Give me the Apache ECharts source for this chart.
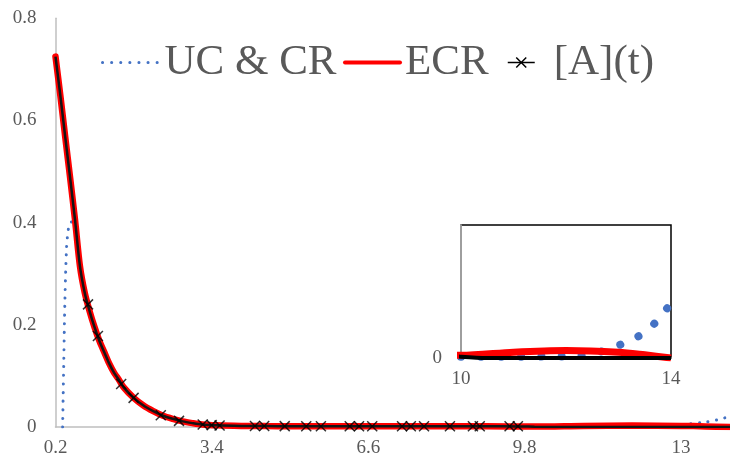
<!DOCTYPE html>
<html>
<head>
<meta charset="utf-8">
<script src="https://cdn.jsdelivr.net/npm/echarts@6/dist/echarts.min.js"></script>
<style>
  html, body { margin: 0; padding: 0; background: #fff; }
  #chart { width: 730px; height: 458px; }
</style>
</head>
<body>
<div id="chart"></div>
<script>
// UC & CR (blue dotted)
const ucT = [0.346, 0.37, 0.393, 0.427, 0.46, 0.494, 0.6, 0.7, 0.8, 0.9, 1.0, 1.2, 1.4, 1.6, 1.8, 2.0, 2.4, 2.8, 3.2, 3.6, 4.0, 5, 6, 7, 8, 9, 10, 11, 12, 12.3, 12.7, 13.07, 13.45, 13.75, 14];
const ucY = [0, 0.13, 0.25, 0.352, 0.385, 0.4, 0.402, 0.315, 0.262, 0.225, 0.195, 0.146, 0.106, 0.077, 0.057, 0.042, 0.021, 0.011, 0.0048, 0.003, 0.002, 0.001, 0.0008, 0.0006, 0.0005, 0.0005, 0.0005, 0.0005, 0.0006, 0.0009, 0.0026, 0.0053, 0.009, 0.0143, 0.0207];

// ECR (red)
const ecrT = [0.2, 0.3, 0.4, 0.5, 0.6, 0.7, 0.8, 0.9, 1.0, 1.1, 1.2, 1.3, 1.4, 1.5, 1.6, 1.8, 2.0, 2.2, 2.4, 2.6, 2.8, 3.0, 3.2, 3.5, 4.0, 4.5, 5, 6, 7, 8, 9, 10, 11, 12, 13, 13.5, 14];
const ecrY = [0.725, 0.648, 0.567, 0.487, 0.405, 0.315, 0.262, 0.226, 0.195, 0.168, 0.146, 0.124, 0.106, 0.092, 0.077, 0.057, 0.042, 0.031, 0.022, 0.016, 0.011, 0.0076, 0.0049, 0.0033, 0.0022, 0.0018, 0.0016, 0.0015, 0.0015, 0.0015, 0.0014, 0.001, 0.0022, 0.0028, 0.0022, 0.0012, 0];

// [A](t) line (black)
const aT = [0.2, 0.3, 0.4, 0.5, 0.6, 0.7, 0.8, 0.9, 1.0, 1.1, 1.2, 1.3, 1.4, 1.5, 1.6, 1.8, 2.0, 2.2, 2.4, 2.6, 2.8, 3.0, 3.2, 3.5, 4.0, 4.5, 5, 6, 7, 8, 9, 9.7, 10, 10.5, 12, 14];
const aY = [0.725, 0.648, 0.567, 0.487, 0.405, 0.315, 0.262, 0.226, 0.195, 0.168, 0.146, 0.124, 0.106, 0.092, 0.077, 0.057, 0.042, 0.031, 0.022, 0.016, 0.011, 0.0076, 0.0049, 0.0033, 0.0022, 0.0018, 0.0016, 0.0015, 0.0015, 0.0015, 0.0014, 0.0012, 0.0005, 0, 0, 0];

// [A](t) sampled points (crosses)
const markT = [0.865, 1.068, 1.543, 1.798, 2.354, 2.727, 3.212, 3.395, 3.557, 4.281, 4.47, 4.89, 5.33, 5.63, 6.22, 6.41, 6.68, 7.29, 7.47, 7.74, 8.27, 8.74, 8.88, 9.49, 9.66];
const markY = [0.24, 0.178, 0.084, 0.057, 0.023, 0.012, 0.0048, 0.0037, 0.003, 0.0019, 0.0018, 0.0017, 0.0016, 0.0016, 0.0016, 0.0016, 0.0016, 0.0016, 0.0016, 0.0016, 0.0016, 0.0016, 0.0016, 0.0016, 0.0016];

// main axis ticks
const xMin = 0.2, xMax = 14, xStep = 3.2;
const yMax = 0.8, yStep = 0.2;
// inset axis
const insetX = [10, 14];
const insetYMax = 0.05;

const pairs = (xs, ys) => xs.map((x, i) => [x, ys[i]]);
const cross = 'path://M0,0L10,10M10,0L0,10';
const FONT = 'Liberation Serif';
const GREY = '#595959';
const BLUE = '#4472C4';

var chart = echarts.init(document.getElementById('chart'));

var legendText = { fontFamily: FONT, fontSize: 43, color: GREY, lineHeight: 43 };

var option = {
  animation: false,
  backgroundColor: '#fff',
  legend: [
    {
      data: ['UC & CR'], left: 101, top: 41, padding: 0, selectedMode: false,
      itemWidth: 57, itemHeight: 12,
      lineStyle: { width: 3, type: [0.1, 9], cap: 'round', color: BLUE },
      itemStyle: { opacity: 0 },
      textStyle: legendText
    },
    {
      data: ['ECR'], left: 343, top: 41, padding: 0, selectedMode: false,
      itemWidth: 55, itemHeight: 12,
      lineStyle: { width: 4, cap: 'round', color: '#FF0000' },
      itemStyle: { opacity: 0 },
      textStyle: legendText
    },
    {
      data: ['[A](t)'], left: 507, top: 41, padding: 0, selectedMode: false,
      itemWidth: 27, itemHeight: 12.5,
      lineStyle: { width: 1.5, color: '#000' },
      itemStyle: { color: 'rgba(0,0,0,0)', borderColor: '#000', borderWidth: 1.5 },
      textStyle: Object.assign({ padding: [0, 0, 0, 14] }, legendText)
    }
  ],
  grid: [
    { left: 55.5, top: 18.3, width: 680.3, height: 409.7 },
    { left: 461, top: 225, width: 210, height: 133, show: true, borderColor: '#000', borderWidth: 1.5, backgroundColor: '#fff', z: 5 }
  ],
  xAxis: [
    {
      gridIndex: 0, type: 'value', min: xMin, max: xMax, interval: xStep,
      axisLine: { lineStyle: { color: '#BFBFBF', width: 1.5 } },
      axisTick: { show: false }, splitLine: { show: false },
      axisLabel: { showMaxLabel: false, fontFamily: FONT, fontSize: 19, color: GREY, margin: 12 }
    },
    {
      gridIndex: 1, type: 'value', min: insetX[0], max: insetX[1], interval: insetX[1] - insetX[0],
      axisLine: { lineStyle: { color: '#BFBFBF', width: 1.5 } },
      axisTick: { show: false }, splitLine: { show: false }, z: 6,
      axisLabel: { fontFamily: FONT, fontSize: 19, color: GREY, margin: 12 }
    }
  ],
  yAxis: [
    {
      gridIndex: 0, type: 'value', min: 0, max: yMax, interval: yStep,
      axisLine: { show: true, lineStyle: { color: '#BFBFBF', width: 1.5 } },
      axisTick: { show: false }, splitLine: { show: false },
      axisLabel: { fontFamily: FONT, fontSize: 19, color: GREY, margin: 19 }
    },
    {
      gridIndex: 1, type: 'value', min: 0, max: insetYMax, interval: insetYMax,
      axisLine: { show: true, lineStyle: { color: '#BFBFBF', width: 1.5 } },
      axisTick: { show: false }, splitLine: { show: false }, z: 6,
      axisLabel: { fontFamily: FONT, fontSize: 19, color: GREY, margin: 19,
        formatter: v => (v === 0 ? '0' : '') }
    }
  ],
  series: [
    {
      name: 'UC & CR', type: 'line', xAxisIndex: 0, yAxisIndex: 0,
      data: pairs(ucT, ucY), smooth: 0.3, symbol: 'none', z: 2,
      lineStyle: { color: BLUE, width: 3, type: [0.1, 8.5], cap: 'round' }
    },
    {
      name: 'ECR', type: 'line', xAxisIndex: 0, yAxisIndex: 0,
      data: pairs(ecrT, ecrY), smooth: 0.3, symbol: 'none', z: 3,
      lineStyle: { color: '#FF0000', width: 6.5, cap: 'round' }
    },
    {
      name: '[A](t)', type: 'line', xAxisIndex: 0, yAxisIndex: 0,
      data: pairs(aT, aY), smooth: 0.3, symbol: cross, showSymbol: false, z: 4,
      itemStyle: { color: 'rgba(0,0,0,0)', borderColor: '#000', borderWidth: 1.5 },
      lineStyle: { color: '#141414', width: 2.5 }
    },
    {
      name: '[A](t)', type: 'scatter', xAxisIndex: 0, yAxisIndex: 0,
      data: pairs(markT, markY), symbol: cross, symbolSize: 10, z: 5,
      itemStyle: { color: 'rgba(0,0,0,0)', borderColor: '#000', borderWidth: 1.5 }
    },
    // inset: zoom of 10..14
    {
      name: 'UC & CR', type: 'line', xAxisIndex: 1, yAxisIndex: 1,
      data: pairs(ucT, ucY), smooth: 0.3, symbol: 'none', z: 7,
      lineStyle: { color: BLUE, width: 8, type: [0.1, 20], cap: 'round' }
    },
    {
      name: 'ECR', type: 'line', xAxisIndex: 1, yAxisIndex: 1,
      data: pairs(ecrT, ecrY), smooth: 0.3, symbol: 'none', z: 8,
      lineStyle: { color: '#FF0000', width: 7 }
    },
    {
      name: '[A](t)', type: 'line', xAxisIndex: 1, yAxisIndex: 1,
      data: pairs(aT, aY), smooth: 0.3, symbol: 'none', z: 9,
      lineStyle: { color: '#000', width: 4 }
    }
  ]
};

chart.setOption(option);
</script>
</body>
</html>
